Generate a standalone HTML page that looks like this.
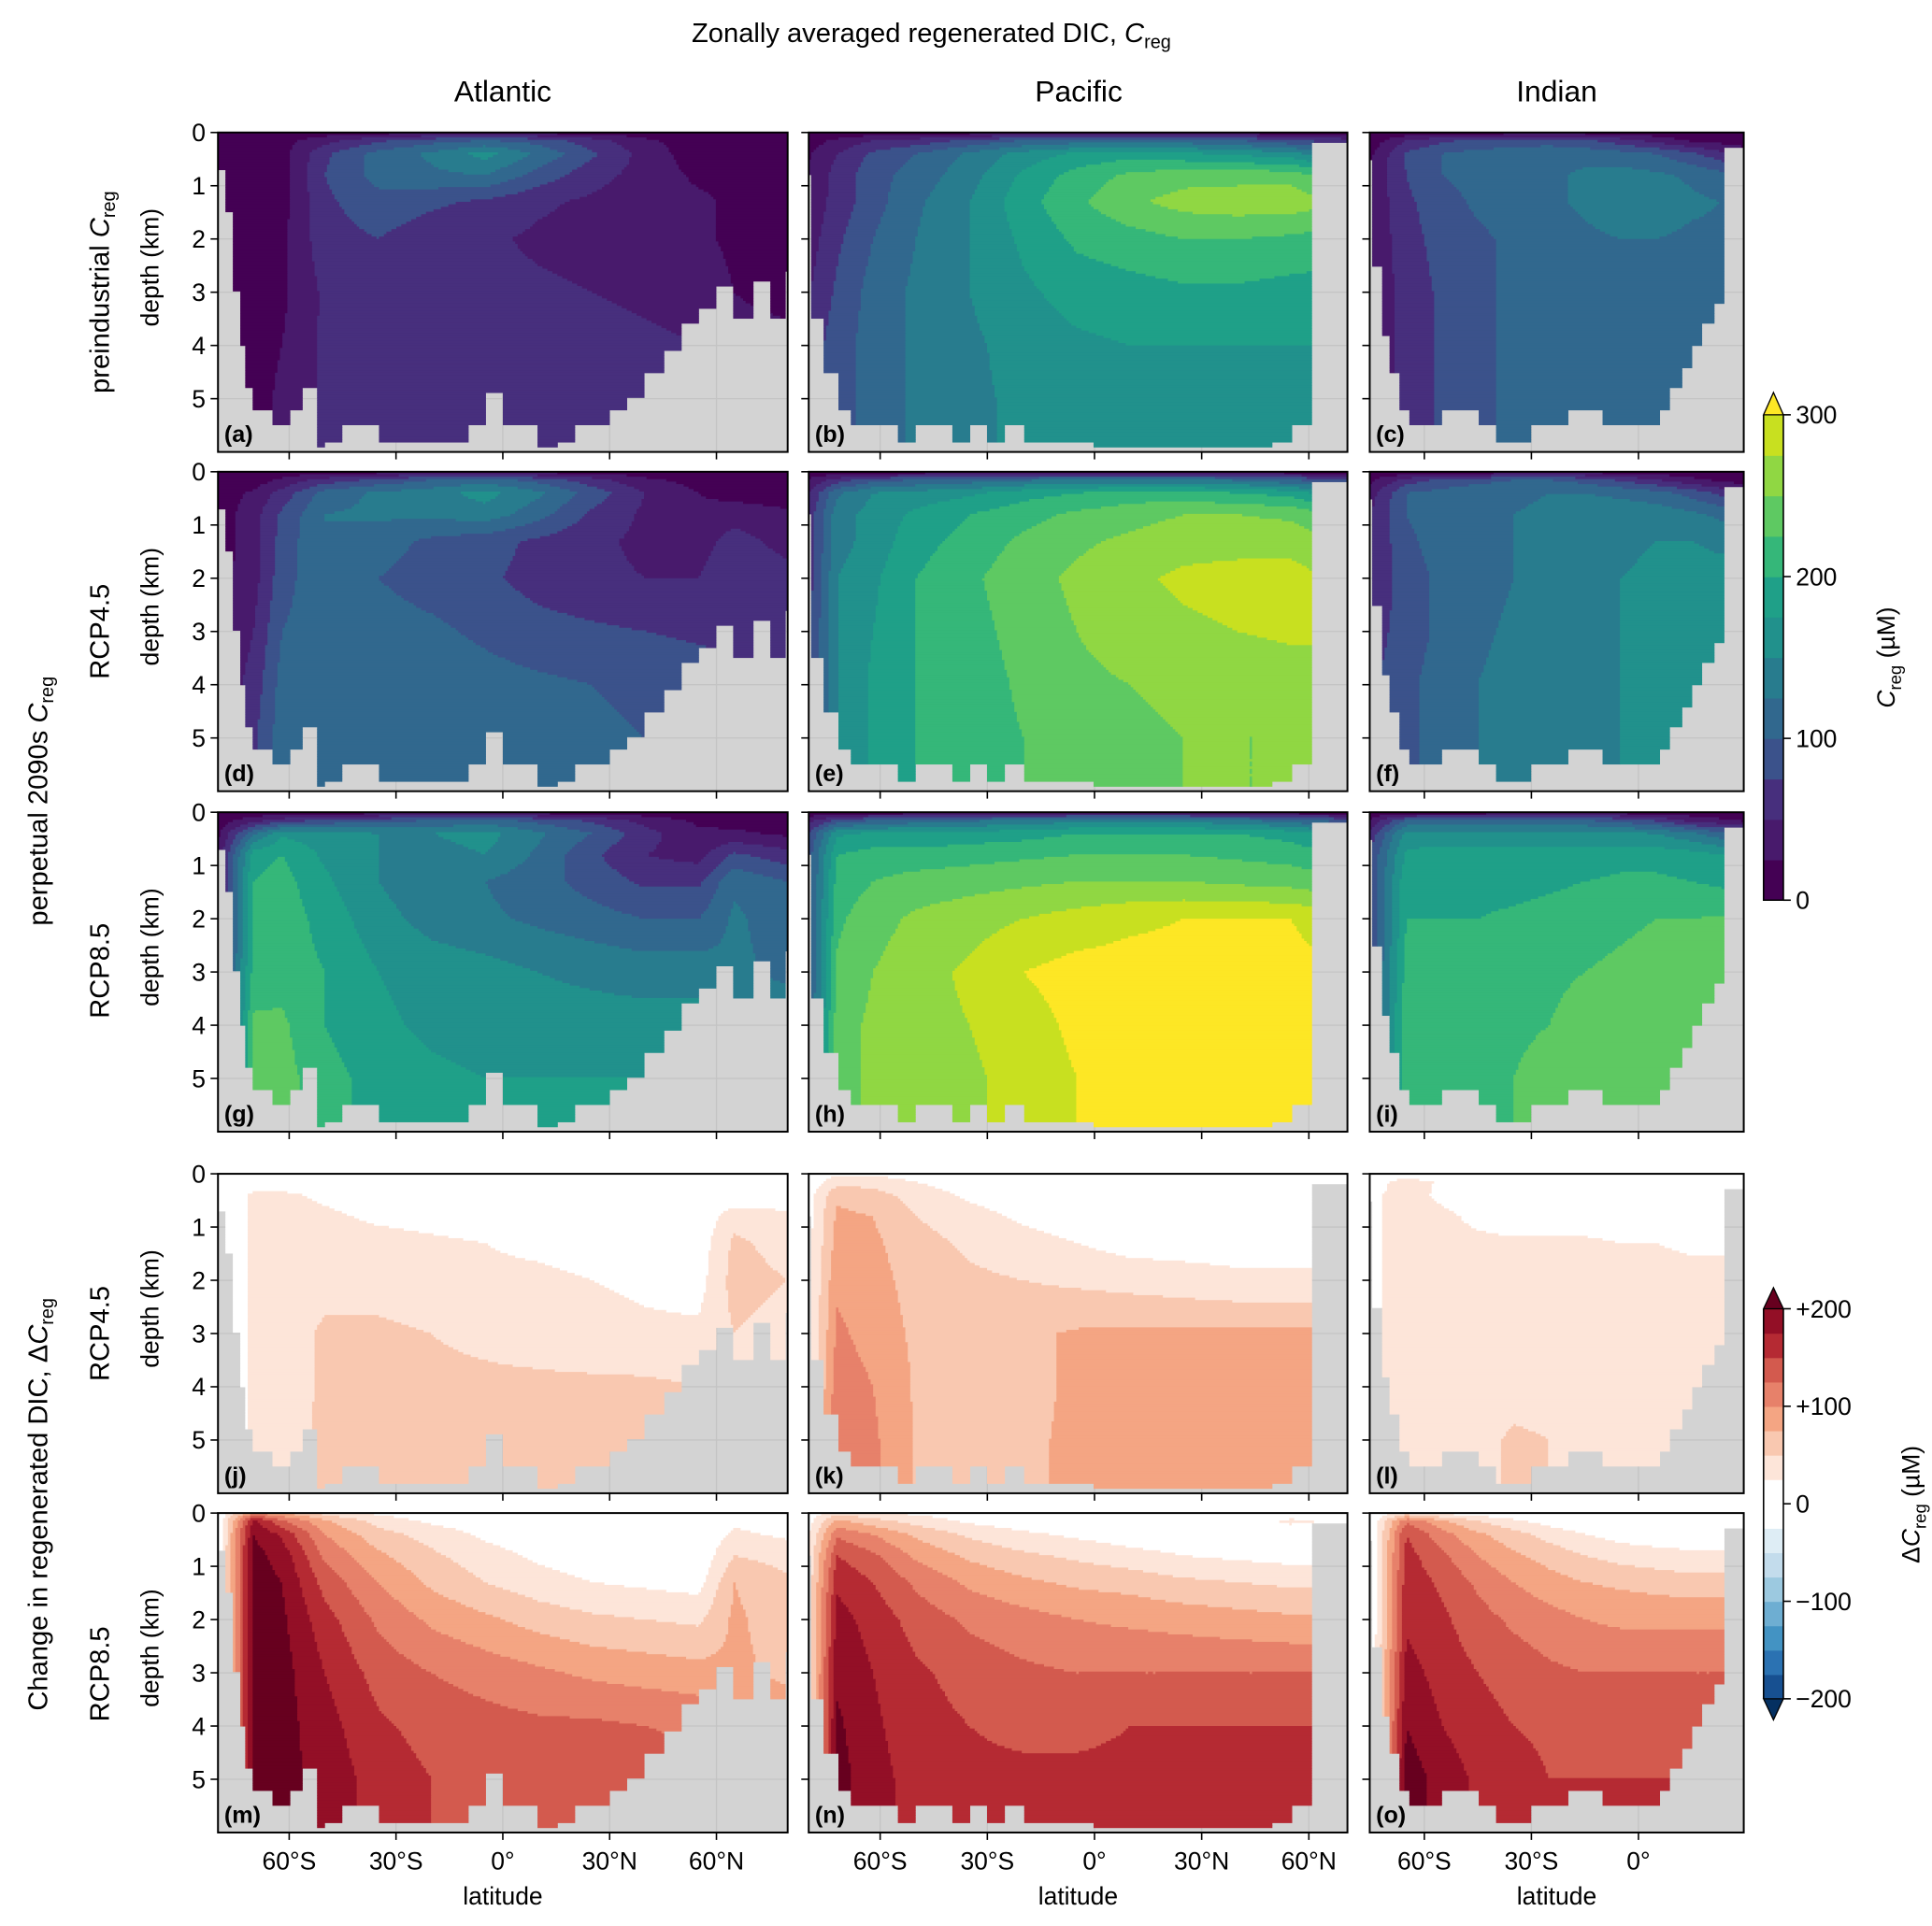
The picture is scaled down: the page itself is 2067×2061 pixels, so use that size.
<!DOCTYPE html>
<html><head><meta charset="utf-8"><style>
html,body{margin:0;padding:0;background:#fff;}
svg{display:block;font-family:"Liberation Sans",Arial,sans-serif;}
</style></head><body>
<svg id="fig" width="2067" height="2061" viewBox="0 0 1560 1555.5" xmlns="http://www.w3.org/2000/svg">
<g id="fields"></g>
<g id="axes"></g>
<g id="labels" fill="#000">
<text x="752" y="34" font-size="22" text-anchor="middle">Zonally averaged regenerated DIC, <tspan font-style="italic">C</tspan><tspan font-size="15" dy="5">reg</tspan></text>
<text x="406" y="82" font-size="24" text-anchor="middle">Atlantic</text>
<text x="871" y="82" font-size="24" text-anchor="middle">Pacific</text>
<text x="1257" y="82" font-size="24" text-anchor="middle">Indian</text>
<text transform="translate(88,236) rotate(-90)" font-size="22" text-anchor="middle">preindustrial <tspan font-style="italic">C</tspan><tspan font-size="15" dy="5">reg</tspan></text>
<text transform="translate(38,647) rotate(-90)" font-size="22" text-anchor="middle">perpetual 2090s <tspan font-style="italic">C</tspan><tspan font-size="15" dy="5">reg</tspan></text>
<text transform="translate(88,510) rotate(-90)" font-size="22" text-anchor="middle">RCP4.5</text>
<text transform="translate(88,784) rotate(-90)" font-size="22" text-anchor="middle">RCP8.5</text>
<text transform="translate(38,1215) rotate(-90)" font-size="22" text-anchor="middle">Change in regenerated DIC, Δ<tspan font-style="italic">C</tspan><tspan font-size="15" dy="5">reg</tspan></text>
<text transform="translate(88,1077) rotate(-90)" font-size="22" text-anchor="middle">RCP4.5</text>
<text transform="translate(88,1352) rotate(-90)" font-size="22" text-anchor="middle">RCP8.5</text>
</g>
<g id="cbars"></g>
</svg>
<script>
// ---------- data ----------
const depthNodes = [0, 0.15, 0.4, 0.8, 1.3, 2, 3, 4, 5, 6];
const latAtl = [-80,-70,-62,-50,-35,-20,-5,10,25,40,55,65,80];
const latPac = [-82,-72,-62,-50,-35,-20,-5,10,25,40,55,70];
const latInd = [-75,-65,-55,-45,-35,-25,-15,-5,5,15,30];

const atlPre = [
[5,5,10,10,15,20,20,15,15,10,5,5,5],
[5,5,15,40,70,90,100,90,60,30,10,5,5],
[5,10,15,70,110,130,160,120,80,40,10,5,5],
[5,10,15,75,110,120,125,90,60,40,20,20,10],
[5,10,15,70,90,80,70,55,45,35,30,20,10],
[5,15,20,65,75,60,55,45,40,35,30,20,10],
[5,15,20,55,60,60,60,55,50,45,40,25,10],
[5,15,25,55,60,60,60,60,60,55,50,40,40],
[5,15,30,55,60,60,60,60,60,55,50,40,40],
[5,15,30,55,60,60,60,60,60,55,50,40,40]];
const atl45 = [
[5,5,10,10,15,20,20,15,15,10,5,5,5],
[5,10,30,60,80,100,110,90,60,30,15,10,5],
[10,30,60,110,130,140,160,130,90,50,25,15,10],
[10,40,80,125,130,130,140,110,70,45,30,40,30],
[10,40,85,125,110,95,85,70,55,45,40,60,40],
[15,40,90,120,100,90,80,65,55,50,50,70,60],
[20,50,100,115,110,105,95,85,80,75,70,70,70],
[30,60,110,115,115,115,110,105,100,95,90,80,80],
[40,70,115,120,120,120,115,110,105,100,95,90,90],
[40,70,115,120,120,120,115,110,105,100,95,90,90]];
const atl85 = [
[5,5,10,10,15,15,15,15,10,10,5,5,5],
[10,40,60,80,90,100,110,90,70,40,20,15,10],
[20,120,170,160,150,150,160,130,100,60,30,30,20],
[30,190,200,170,150,140,150,120,80,50,40,80,60],
[30,200,210,180,150,130,125,110,90,70,70,120,100],
[30,200,215,190,160,140,130,120,110,100,100,130,110],
[40,210,215,200,175,165,160,150,145,140,140,130,120],
[40,230,230,200,180,170,165,160,160,160,160,140,140],
[40,235,235,210,190,180,175,175,175,175,170,150,150],
[40,235,235,210,190,180,175,175,175,175,170,150,150]];
const pacPre = [
[5,5,10,10,15,20,20,20,20,15,10,10],
[10,30,50,60,80,100,110,110,110,100,80,60],
[15,50,80,100,130,160,180,190,180,170,160,120],
[20,60,90,110,140,180,210,230,240,240,240,200],
[25,60,90,120,150,190,220,245,260,265,265,250],
[30,70,100,125,150,180,205,215,225,225,220,210],
[40,80,110,130,150,170,185,190,195,195,190,190],
[50,90,110,130,145,160,170,175,175,175,175,175],
[50,90,110,130,145,155,165,170,170,170,170,170],
[50,90,110,130,145,155,165,170,170,170,170,170]];
const pac45 = [
[5,5,10,10,15,20,20,20,20,15,10,10],
[20,60,90,100,110,120,130,130,130,120,100,80],
[30,120,150,160,170,190,200,210,210,200,190,150],
[40,140,160,180,200,215,230,240,250,250,245,220],
[40,140,160,190,210,230,245,255,265,265,265,250],
[40,150,170,200,220,240,255,270,280,285,285,270],
[50,150,175,200,215,235,250,260,270,275,280,280],
[60,150,180,200,210,230,245,250,255,255,260,260],
[60,150,180,200,210,225,240,245,250,250,250,250],
[60,150,180,200,210,225,240,245,250,250,250,250]];
const pac85 = [
[5,5,10,10,15,20,20,20,20,15,10,10],
[30,80,100,110,120,130,140,140,140,130,110,90],
[50,170,180,180,185,190,200,200,200,200,190,160],
[60,200,210,210,215,220,225,225,225,220,215,200],
[60,210,225,235,240,245,250,250,250,245,240,230],
[60,220,240,255,265,275,285,295,300,300,300,280],
[60,230,250,265,280,300,310,310,310,310,310,300],
[60,240,255,265,275,290,305,310,310,310,310,300],
[60,240,255,265,270,285,300,310,310,310,300,300],
[60,240,255,265,270,285,300,310,310,310,300,300]];
const indPre = [
[5,5,10,10,15,15,15,15,10,10,5],
[10,50,70,80,90,90,80,60,40,20,10],
[20,80,100,110,110,115,115,110,100,80,40],
[30,75,100,110,115,120,130,135,130,120,100],
[30,70,90,105,115,120,130,140,140,130,120],
[30,65,85,95,105,115,120,125,125,120,120],
[30,60,80,95,105,110,115,120,120,120,120],
[30,60,80,95,105,110,115,115,115,115,115],
[30,60,80,95,105,110,115,115,115,115,115],
[30,60,80,95,105,110,115,115,115,115,115]];
const ind45 = [
[5,5,10,10,15,15,15,15,10,10,5],
[20,60,80,90,100,100,90,70,50,30,10],
[40,100,110,120,120,125,125,120,110,90,50],
[50,100,115,120,125,130,135,140,140,130,110],
[50,95,110,120,125,130,140,145,150,150,140],
[50,90,105,115,125,135,145,150,155,160,160],
[60,90,105,120,130,140,145,150,155,160,160],
[70,95,110,125,135,140,145,150,150,150,150],
[70,95,110,125,135,140,145,150,150,150,150],
[70,95,110,125,135,140,145,150,150,150,150]];
const ind85 = [
[5,5,10,10,15,15,15,15,10,10,5],
[30,100,100,100,105,105,100,90,70,40,20],
[60,160,160,160,160,160,160,155,150,130,90],
[80,180,185,185,185,185,185,190,190,185,170],
[80,195,195,190,190,195,200,205,205,200,190],
[80,200,200,200,205,210,215,220,225,225,230],
[80,210,210,210,215,220,225,230,235,240,240],
[80,220,220,215,220,225,235,240,240,240,240],
[80,220,220,220,225,235,240,240,240,240,240],
[80,220,220,220,225,235,240,240,240,240,240]];
const atlD45 = [
[0,0,0,0,0,0,0,0,0,0,0,0,0],
[0,10,10,5,5,5,5,5,5,5,5,5,5],
[0,30,30,20,10,10,5,5,5,5,5,5,10],
[0,30,40,30,20,15,10,5,5,5,5,40,30],
[0,30,35,35,35,30,25,20,15,10,10,55,40],
[0,30,35,40,40,35,30,30,25,20,15,60,50],
[0,30,35,55,55,50,45,40,35,30,30,50,40],
[0,30,35,55,55,55,55,55,55,55,50,40,40],
[0,30,40,55,55,55,55,55,55,55,55,45,45],
[0,30,40,55,55,55,55,55,55,55,55,45,45]];
const atlD85 = [
[0,100,80,40,20,10,5,0,0,0,0,0,0],
[0,180,130,80,40,20,10,5,5,5,5,20,10],
[0,200,170,100,60,40,20,10,5,5,5,30,20],
[0,210,190,120,80,55,35,20,10,5,5,50,40],
[0,210,200,140,100,70,50,35,25,20,15,75,55],
[0,210,205,160,120,95,80,65,55,50,45,80,60],
[0,210,210,175,140,125,115,105,95,90,85,80,70],
[0,210,210,185,155,140,135,130,130,125,120,100,90],
[0,210,210,190,165,150,145,145,145,140,130,110,100],
[0,210,210,190,165,150,145,145,145,140,130,110,100]];
const pacD45 = [
[0,20,20,10,5,5,0,0,0,0,0,0],
[0,40,40,25,10,5,0,0,0,5,10,5],
[0,70,60,40,20,10,5,5,5,5,5,5],
[0,80,75,50,35,20,10,5,5,5,5,5],
[0,85,80,60,45,35,25,15,15,15,15,15],
[0,95,85,65,55,50,45,40,35,30,30,30],
[0,105,90,70,62,70,78,80,80,80,80,80],
[0,115,100,72,65,70,78,82,82,82,82,82],
[0,125,105,72,65,72,78,82,82,82,82,82],
[0,125,105,72,65,72,78,82,82,82,82,82]];
const pacD85 = [
[0,40,30,20,10,5,0,0,0,0,10,10],
[0,80,60,40,20,10,5,0,0,10,30,20],
[0,120,100,70,45,30,20,10,5,5,10,10],
[0,150,130,95,70,55,45,35,25,20,15,15],
[0,170,150,120,95,80,70,65,55,50,45,45],
[0,185,165,140,120,110,100,95,90,85,80,80],
[0,195,175,155,140,130,125,125,125,125,125,125],
[0,205,180,160,150,145,145,150,150,150,150,150],
[0,210,185,165,155,155,155,155,155,155,155,155],
[0,210,185,165,155,155,155,155,155,155,155,155]];
const indD45 = [
[0,0,0,0,0,0,0,0,0,0,0],
[10,40,20,10,5,5,5,5,5,5,5],
[20,35,20,10,5,5,5,5,5,5,5],
[20,35,30,20,10,10,10,5,5,5,5],
[20,35,30,30,30,30,30,25,25,20,20],
[20,35,35,35,35,35,35,35,35,35,35],
[20,35,40,40,40,40,40,40,40,40,40],
[20,35,40,42,45,45,42,42,45,48,48],
[20,40,45,46,52,50,46,46,48,52,52],
[20,40,45,46,52,50,46,46,48,52,52]];
const indD85 = [
[0,40,20,10,5,0,0,0,0,0,0],
[0,120,80,50,30,15,5,0,0,0,10],
[0,150,110,80,60,40,25,15,10,10,10],
[0,160,130,100,80,65,50,40,35,30,30],
[0,165,145,120,100,85,75,70,65,60,60],
[0,170,155,135,120,110,100,95,95,95,95],
[0,185,165,150,140,130,125,125,125,125,125],
[0,200,175,160,150,145,145,145,145,145,145],
[0,215,190,170,160,150,150,150,150,150,150],
[0,215,190,170,160,150,150,150,150,150,150]];

// bathymetry (seafloor depth, km) stepwise by latitude
const bathLatAtl = [-80,-78,-76,-74,-72,-70,-65,-60,-56,-52,-50,-45,-40,-35,-30,-25,-20,-15,-10,-5,0,5,10,15,20,25,30,35,40,45,50,55,60,65,70,75,79];
const bathAtl =    [0.7,1.5,3.0,4.0,4.8,5.2,5.5,5.2,4.8,5.9,5.8,5.5,5.5,5.8,5.8,5.8,5.8,5.8,5.5,4.9,5.5,5.5,5.9,5.8,5.5,5.5,5.2,5.0,4.5,4.1,3.6,3.3,2.9,3.5,2.8,3.5,2.6];
const bathLatPac = [-80,-79,-76,-72,-68,-64,-60,-55,-50,-45,-40,-35,-30,-25,-20,-15,-10,-5,0,5,10,20,30,40,50,55,60,61];
const bathPac =    [0.8,3.5,4.5,5.2,5.5,5.5,5.5,5.8,5.5,5.5,5.8,5.5,5.8,5.5,5.8,5.8,5.8,5.8,5.9,5.9,5.9,5.9,5.9,5.9,5.8,5.5,5.5,0.2];
const bathLatInd = [-76,-74.5,-72,-70,-67,-64,-60,-55,-50,-45,-40,-35,-30,-25,-20,-15,-10,-5,0,3,6,9,12,15,18,21,24];
const bathInd =    [0.5,2.5,3.8,4.5,5.2,5.5,5.5,5.2,5.2,5.5,5.8,5.8,5.5,5.5,5.2,5.2,5.5,5.5,5.5,5.5,5.2,4.8,4.4,4.0,3.6,3.2,0.3];

const yTicks = [0,1,2,3,4,5];
const xTicksAtl = [-60,-30,0,30,60];
const xTickLabelsAtl = ["60°S","30°S","0°","30°N","60°N"];
const xTicksInd = [-60,-30,0];
const xTickLabelsInd = ["60°S","30°S","0°"];
const cbTicks1 = [0,100,200,300];
const cbTicks2 = [-200,-100,0,100,200];
const cbTickLabels2 = ["−200","−100","0","+100","+200"];

// ---------- layout ----------
const NS = "http://www.w3.org/2000/svg";
const basins = [
 {key:"atlantic", x0:176, x1:636, latMin:-80, latMax:80, lats:latAtl, bl:bathLatAtl, bd:bathAtl, ticks:xTicksAtl, tl:xTickLabelsAtl},
 {key:"pacific",  x0:653, x1:1088, latMin:-80, latMax:70.8, lats:latPac, bl:bathLatPac, bd:bathPac, ticks:xTicksAtl, tl:xTickLabelsAtl},
 {key:"indian",   x0:1106, x1:1408, latMin:-75.3, latMax:29.5, lats:latInd, bl:bathLatInd, bd:bathInd, ticks:xTicksInd, tl:xTickLabelsInd}];
const rowsY = [107,381,656,948,1222];
const PH = 258;
const grids = [[atlPre,pacPre,indPre],[atl45,pac45,ind45],[atl85,pac85,ind85],[atlD45,pacD45,indD45],[atlD85,pacD85,indD85]];
const letters = "abcdefghijklmno";

function xScale(b, lat){ return b.x0 + (lat-b.latMin)/(b.latMax-b.latMin)*(b.x1-b.x0); }
function yScale(r, d){ return rowsY[r] + d/6*PH; }

const vir = ["#440154","#481a6c","#472f7d","#3b528b","#31688e","#287c8e","#21918c","#1fa088","#35b779","#5ec962","#90d743","#c8e020"];
const virExt = "#fde725";
function colSeq(v){ if(v>=300) return virExt; let i=Math.floor(v/25); if(i<0)i=0; return vir[i]; }
const rdNeg = ["#175091","#2b72b2","#4393c3","#6eaed2","#9cc9e0","#c3dcec","#deedf5","#ffffff"];
const rdPos = ["#ffffff","#fde5d9","#f9c8b0","#f4a583","#e7816a","#d35a4e","#b52a33","#930f26"];
function colDiv(v){ if(v>=200) return "#67001f"; if(v<-200) return "#053061";
 const i=Math.floor(v/25); return i>=0? rdPos[i] : rdNeg[i+8]; }

function interp(grid, lats, lat, d){
 let i=0; while(i<lats.length-2 && lat>lats[i+1]) i++;
 let j=0; while(j<depthNodes.length-2 && d>depthNodes[j+1]) j++;
 let tx=(lat-lats[i])/(lats[i+1]-lats[i]); tx=Math.max(0,Math.min(1,tx));
 let ty=(d-depthNodes[j])/(depthNodes[j+1]-depthNodes[j]); ty=Math.max(0,Math.min(1,ty));
 const a=grid[j][i], b=grid[j][i+1], c=grid[j+1][i], e=grid[j+1][i+1];
 return (a*(1-tx)+b*tx)*(1-ty)+(c*(1-tx)+e*tx)*ty;
}
function bottom(b, lat){
 let k=0; for(let i=0;i<b.bl.length;i++){ if(lat>=b.bl[i]) k=i; }
 return b.bd[k];
}

const fieldsG = document.getElementById("fields");
const axesG = document.getElementById("axes");
function mk(tag, attrs, parent){ const e=document.createElementNS(NS,tag); for(const k in attrs) e.setAttribute(k,attrs[k]); parent.appendChild(e); return e; }

const STEP=2;
for(let r=0;r<5;r++){
 for(let c=0;c<3;c++){
  const b=basins[c], grid=grids[r][c], y0=rowsY[r];
  const g=document.createElementNS(NS,"g");
  
  
  fieldsG.appendChild(g);
  const bg=mk("rect",{x:b.x0,y:y0,width:b.x1-b.x0,height:PH,fill:"#d3d3d3"},g);
  
  
  for(const t of yTicks){ mk("line",{x1:b.x0,x2:b.x1,y1:yScale(r,t),y2:yScale(r,t),stroke:"#c4c4c4","stroke-width":1},g); }
  for(const t of b.ticks){ mk("line",{x1:xScale(b,t),x2:xScale(b,t),y1:y0,y2:y0+PH,stroke:"#c4c4c4","stroke-width":1},g); }
  const cf = r<3? colSeq : colDiv;
  for(let py=0;py<PH;py+=STEP){
   const d=(py+STEP/2)/PH*6;
   let runStart=null, runCol=null;
   const W=b.x1-b.x0;
   const flush=(endX)=>{ if(runCol){ const rc=mk("rect",{x:b.x0+runStart,y:y0+py,width:endX-runStart+0.4,height:STEP+0.4,fill:runCol},g);
     
      } };
   for(let px=0;px<W;px+=STEP){
    const lat=b.latMin+(px+STEP/2)/W*(b.latMax-b.latMin);
    let col=null;
    if(d<bottom(b,lat)) col=cf(interp(grid,b.lats,lat,d));
    if(col!==runCol){ flush(px); runStart=px; runCol=col; }
   }
   flush(W);
  }
  const fr=mk("rect",{x:b.x0,y:y0,width:b.x1-b.x0,height:PH,fill:"none",stroke:"#000","stroke-width":1.5},axesG);
  
  
  for(const t of yTicks){
   const yy=yScale(r,t);
   mk("line",{x1:b.x0-6,x2:b.x0,y1:yy,y2:yy,stroke:"#000","stroke-width":1.2},axesG);
   if(c===0){ const tx=mk("text",{x:b.x0-10,y:yy+7,"font-size":20,"text-anchor":"end"},axesG); tx.textContent=t;
     
      }
  }
  for(const t of b.ticks){
   const xx=xScale(b,t);
   mk("line",{x1:xx,x2:xx,y1:y0+PH,y2:y0+PH+6,stroke:"#000","stroke-width":1.2},axesG);
  }
  if(r===4){
   b.ticks.forEach((t,k)=>{ const tx=mk("text",{x:xScale(b,t),y:y0+PH+30,"font-size":20,"text-anchor":"middle"},axesG); tx.textContent=b.tl[k];
     
      });
   const xl=mk("text",{x:(b.x0+b.x1)/2,y:y0+PH+58,"font-size":20,"text-anchor":"middle"},axesG); xl.textContent="latitude";
   
   
  }
  if(c===0){
   const yl=mk("text",{transform:`translate(128,${y0+PH/2-20}) rotate(-90)`,"font-size":20,"text-anchor":"middle"},axesG); yl.textContent="depth (km)";
   
   
  }
  const lt=mk("text",{x:b.x0+5,y:y0+PH-8,"font-size":19,"font-weight":"bold"},axesG); lt.textContent="("+letters[r*3+c]+")";
  
  
 }
}

// ---------- colorbars ----------
const cb=document.getElementById("cbars");
const cbx=1424, cbw=16;
{ const top=335, bot=727; const ys=v=>bot-(v/300)*(bot-top);
  for(let i=0;i<12;i++){ const rc=mk("rect",{x:cbx,y:ys((i+1)*25),width:cbw,height:(bot-top)/12+0.5,fill:vir[i]},cb);
    
     }
  const tri=mk("polygon",{points:`${cbx},${top} ${cbx+cbw},${top} ${cbx+cbw/2},${top-18}`,fill:virExt,stroke:"#000","stroke-width":1},cb);
  
  
  mk("polyline",{points:`${cbx},${top} ${cbx},${bot} ${cbx+cbw},${bot} ${cbx+cbw},${top}`,fill:"none",stroke:"#000","stroke-width":1.2},cb);
  for(const t of cbTicks1){ const yy=ys(t); mk("line",{x1:cbx+cbw,x2:cbx+cbw+6,y1:yy,y2:yy,stroke:"#000","stroke-width":1.2},cb);
   const tx=mk("text",{x:cbx+cbw+10,y:yy+7,"font-size":20},cb); tx.textContent=t;
   
    }
  const lab=mk("text",{transform:"translate(1530,531) rotate(-90)","font-size":20,"text-anchor":"middle"},cb);
  lab.innerHTML='<tspan font-style="italic">C</tspan><tspan font-size="14" dy="5">reg</tspan><tspan dy="-5"> (µM)</tspan>';
  
  
}
{ const top=1057, bot=1372; const ys=v=>bot-((v+200)/400)*(bot-top);
  for(let i=-8;i<8;i++){ const col=i>=0?rdPos[i]:rdNeg[i+8];
    const rc=mk("rect",{x:cbx,y:ys((i+1)*25),width:cbw,height:(bot-top)/16+0.5,fill:col},cb);
    
     }
  const t1=mk("polygon",{points:`${cbx},${top} ${cbx+cbw},${top} ${cbx+cbw/2},${top-17}`,fill:"#67001f",stroke:"#000","stroke-width":1},cb);
  
  
  const t2=mk("polygon",{points:`${cbx},${bot} ${cbx+cbw},${bot} ${cbx+cbw/2},${bot+17}`,fill:"#053061",stroke:"#000","stroke-width":1},cb);
  
  
  mk("line",{x1:cbx,x2:cbx,y1:top,y2:bot,stroke:"#000","stroke-width":1.2},cb);
  mk("line",{x1:cbx+cbw,x2:cbx+cbw,y1:top,y2:bot,stroke:"#000","stroke-width":1.2},cb);
  cbTicks2.forEach((t,k)=>{ const yy=ys(t); mk("line",{x1:cbx+cbw,x2:cbx+cbw+6,y1:yy,y2:yy,stroke:"#000","stroke-width":1.2},cb);
   const tx=mk("text",{x:cbx+cbw+10,y:yy+7,"font-size":20},cb); tx.textContent=cbTickLabels2[k];
   
    });
  const lab=mk("text",{transform:"translate(1550,1215) rotate(-90)","font-size":20,"text-anchor":"middle"},cb);
  lab.innerHTML='Δ<tspan font-style="italic">C</tspan><tspan font-size="14" dy="5">reg</tspan><tspan dy="-5"> (µM)</tspan>';
  
  
}
</script>
</body></html>
